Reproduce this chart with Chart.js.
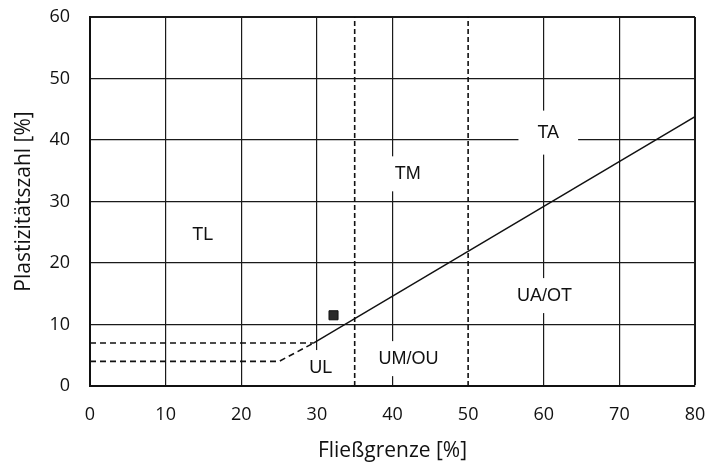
<!DOCTYPE html>
<html>
<head>
<meta charset="utf-8">
<script src="https://cdn.jsdelivr.net/npm/chart.js@4"></script>
<style>
  html, body { margin: 0; padding: 0; background: #fff; }
</style>
</head>
<body>
<canvas id="chart" width="716" height="473"></canvas>
<script>
// A-Linie  Ip = 0.73 (wL - 20)
const aLineX = [29.6, 80];
const aLineY = [7, 43.8];
// gestrichelte Grenzen im unteren Bereich
const lowerDashX = [0, 29.6];
const lowerDashY = [7, 7];
const lowestDashX = [0, 25, 29.6];
const lowestDashY = [4, 4, 7];
// vertikale Grenzen wL = 35 und wL = 50
const bound35X = [35, 35];
const bound50X = [50, 50];
const boundY = [0, 60];
// Probe
const sampleX = [32.2];
const sampleY = [11.5];
// Bereichsbezeichnungen
const zoneNames = ['TL', 'TM', 'TA', 'UA/OT', 'UM/OU', 'UL'];
const zoneX = [14.9, 42.0, 60.6, 60.1, 42.1, 30.5];
const zoneY = [24.6, 34.5, 41.2, 14.7, 4.45, 3.0];

const pts = (xs, ys) => xs.map((x, i) => ({ x: x, y: ys[i] }));

const lineSet = (xs, ys, dash) => ({
    data: pts(xs, ys),
    showLine: true,
    borderColor: '#111',
    borderWidth: dash ? 1.6 : 1.4,
    borderDash: dash || [],
    pointRadius: 0,
    fill: false
});

const zoneLabels = {
    id: 'zoneLabels',
    beforeDatasetsDraw(chart) {
        const ctx = chart.ctx;
        const xs = chart.scales.x, ys = chart.scales.y;
        ctx.save();
        ctx.font = '18px "Liberation Sans", Arial, sans-serif';
        ctx.textAlign = 'center';
        ctx.textBaseline = 'middle';
        zoneNames.forEach((t, i) => {
            const px = xs.getPixelForValue(zoneX[i]);
            const py = ys.getPixelForValue(zoneY[i]);
            const w = ctx.measureText(t).width + 38;
            const h = t === 'TA' ? 44 : 35;
            ctx.fillStyle = '#fff';
            ctx.fillRect(px - w / 2, py - h / 2, w, h);
            ctx.fillStyle = '#111';
            ctx.fillText(t, px, py);
        });
        ctx.restore();
    }
};

const axisFont = { family: '"Open Sans", sans-serif', size: 18 };
const titleFont = { family: '"Open Sans", sans-serif', size: 21 };

new Chart(document.getElementById('chart'), {
    type: 'scatter',
    data: {
        datasets: [
            lineSet(aLineX, aLineY, null),
            lineSet(lowerDashX, lowerDashY, [6, 4]),
            lineSet(lowestDashX, lowestDashY, [6, 4]),
            lineSet(bound35X, boundY, [5, 3]),
            lineSet(bound50X, boundY, [5, 3]),
            {
                data: pts(sampleX, sampleY),
                pointStyle: 'rect',
                pointRadius: 6.4,
                backgroundColor: '#2b2b2b',
                borderColor: '#111',
                borderWidth: 1
            }
        ]
    },
    options: {
        responsive: false,
        animation: false,
        layout: { padding: { top: 17, right: 21, left: 0, bottom: 0 } },
        plugins: {
            legend: { display: false },
            tooltip: { enabled: false }
        },
        scales: {
            x: {
                min: 0,
                max: 80,
                afterFit: s => { s.height = 87; s.paddingLeft = 0; s.paddingRight = 0; },
                ticks: { stepSize: 10, padding: 18, color: '#111', font: axisFont, maxRotation: 0 },
                grid: {
                    drawTicks: false,
                    color: c => c.tick.value === 50 ? 'rgba(0,0,0,0)' : '#1a1a1a',
                    lineWidth: c => c.tick.value === 80 ? 2 : 1.2
                },
                border: { display: true, color: '#111', width: 2 },
                title: { display: true, text: 'Fließgrenze [%]', color: '#111', font: titleFont, padding: { top: 0, bottom: 9 } }
            },
            y: {
                min: 0,
                max: 60,
                afterFit: s => { s.width = 90; s.paddingTop = 0; s.paddingBottom = 0; },
                ticks: { stepSize: 10, padding: 20, color: '#111', font: axisFont },
                grid: {
                    drawTicks: false,
                    color: '#1a1a1a',
                    lineWidth: c => c.tick.value === 60 ? 2 : 1.2
                },
                border: { display: true, color: '#111', width: 2 },
                title: { display: true, text: 'Plastizitätszahl [%]', color: '#111', font: titleFont, padding: { top: 11, bottom: 0 } }
            }
        }
    },
    plugins: [zoneLabels]
});
</script>
</body>
</html>
